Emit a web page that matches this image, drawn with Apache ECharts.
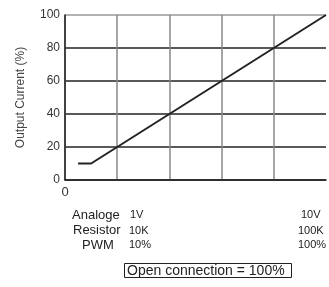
<!DOCTYPE html>
<html>
<head>
<meta charset="utf-8">
<script src="https://cdn.jsdelivr.net/npm/echarts@6/dist/echarts.min.js"></script>
<style>html,body{margin:0;padding:0;background:#fff;overflow:hidden}#c{width:329px;height:287px}</style>
</head>
<body>
<div id="c"></div>
<script>
const xValues = [0.5, 1, 10];
const yValues = [10, 10, 100];
const yTicks = [0, 20, 40, 60, 80, 100];
const rowLabels = ['Analoge', 'Resistor', 'PWM'];
const minLabels = ['1V', '10K', '10%'];
const maxLabels = ['10V', '100K', '100%'];
const noteText = 'Open connection = 100%';

const FF = '"Liberation Sans", Arial, sans-serif';
const chart = echarts.init(document.getElementById('c'), null, {renderer: 'canvas', width: 329, height: 287});

const rowY = [215, 230.5, 245];
const rowX = [72, 73, 82];
const minX = [130, 129, 129];
const maxX = [301, 298, 298];
const graphics = [];
rowLabels.forEach((t, i) => {
  graphics.push({type: 'text', x: rowX[i], y: rowY[i], style: {text: t, font: '13px ' + FF, fill: '#222', verticalAlign: 'middle', align: 'left'}});
  graphics.push({type: 'text', x: minX[i], y: rowY[i], style: {text: minLabels[i], font: '11px ' + FF, fill: '#222', verticalAlign: 'middle', align: 'left'}});
  graphics.push({type: 'text', x: maxX[i], y: rowY[i], style: {text: maxLabels[i], font: '11px ' + FF, fill: '#222', verticalAlign: 'middle', align: 'left'}});
});
graphics.push({type: 'rect', shape: {x: 124.5, y: 263.5, width: 167, height: 14}, style: {fill: 'none', stroke: '#222', lineWidth: 1}});
graphics.push({type: 'text', x: 127, y: 271, style: {text: noteText, font: '14px ' + FF, fill: '#222', verticalAlign: 'middle', align: 'left'}});

chart.setOption({
  animation: false,
  grid: {left: 65, width: 265, top: 15, bottom: 107, containLabel: false},
  xAxis: {
    type: 'value', min: 0, max: 10, interval: 2,
    axisLine: {show: true, lineStyle: {color: '#222', width: 1.5}},
    axisTick: {show: false},
    axisLabel: {formatter: v => v === 0 ? '0' : '', color: '#333', fontSize: 13, fontFamily: FF, margin: 6},
    splitLine: {show: true, showMaxLine: false, lineStyle: {color: '#888', width: 1.5}}
  },
  yAxis: {
    type: 'value', min: 0, max: 100, interval: 20,
    name: 'Output Current (%)', nameLocation: 'middle', nameGap: 38,
    nameTextStyle: {color: '#444', fontSize: 12, fontFamily: FF},
    axisLine: {show: true, lineStyle: {color: '#222', width: 1.5}},
    axisTick: {show: false},
    axisLabel: {color: '#333', fontSize: 12, fontFamily: FF, margin: 5,
      formatter: v => yTicks.includes(v) ? String(v) : ''},
    splitLine: {show: true, lineStyle: {color: ['#222', '#222', '#222', '#222', '#222', '#999'], width: 1.5}}
  },
  series: [{
    type: 'line',
    data: xValues.map((x, i) => [x, yValues[i]]),
    showSymbol: false,
    clip: false,
    lineStyle: {color: '#222', width: 2}
  }],
  graphic: graphics
});
</script>
</body>
</html>
